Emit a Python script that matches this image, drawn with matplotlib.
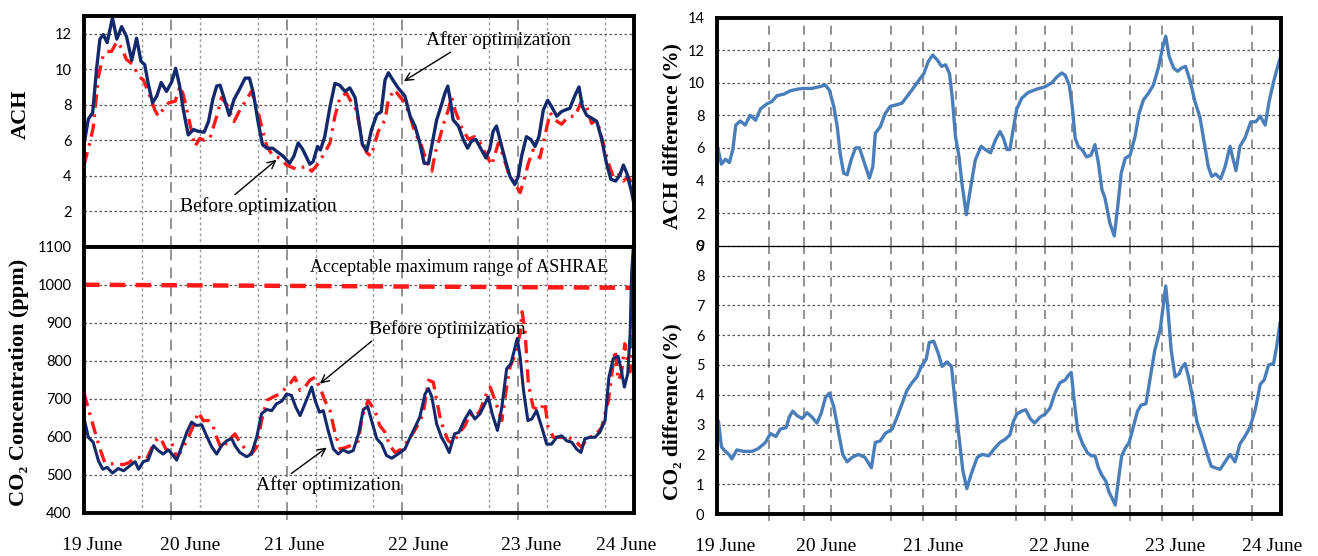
import matplotlib
matplotlib.use("Agg")
import matplotlib.pyplot as plt

SERIF = ['Liberation Serif', 'DejaVu Serif']
SANS = ['Lato', 'DejaVu Sans']

# time axis: hours since 19 June 00:00
day_labels = ['19 June', '20 June', '21 June', '22 June', '23 June', '24 June']
day_label_pos = [7.7, 28.0, 49.6, 75.2, 98.6, 118.3]

# ACH, after optimization (hour, value)
ach_after = [
    (5.9, 5.6), (6.9, 7.2), (7.8, 7.55), (8.6, 10.0), (9.3, 11.7), (10.0, 11.95), (10.8, 11.5),
    (11.9, 12.9), (12.8, 11.7), (13.8, 12.4), (14.8, 11.85), (15.9, 10.5), (16.9, 11.75),
    (17.8, 10.45), (18.6, 10.25), (19.3, 9.2), (20.2, 8.1), (21.1, 8.5), (22.0, 9.25), (23.1, 8.75),
    (24.2, 9.3), (25.0, 10.05), (25.8, 9.1), (26.6, 7.7), (27.6, 6.3), (28.7, 6.6), (29.7, 6.5),
    (30.9, 6.45), (31.8, 7.05), (32.7, 8.3), (33.5, 9.05), (34.2, 9.1), (34.9, 8.5), (36.1, 7.4),
    (37.1, 8.3), (38.2, 8.85), (39.4, 9.5), (40.3, 9.5), (41.1, 8.65), (42.1, 7.0), (43.0, 5.75),
    (43.9, 5.55), (45.1, 5.55), (46.3, 5.3), (47.3, 5.1), (48.6, 4.7), (49.5, 5.1), (50.4, 5.85),
    (51.3, 5.5), (52.8, 4.65), (53.5, 4.8), (54.4, 5.65), (55.0, 5.45), (55.9, 6.2), (57.0, 7.9),
    (58.0, 9.2), (59.0, 9.1), (60.1, 8.75), (61.1, 8.95), (62.2, 8.4), (62.9, 7.15), (63.7, 5.75),
    (64.6, 5.4), (65.6, 6.6), (66.7, 7.45), (67.6, 7.6), (68.4, 9.4), (69.1, 9.8), (70.0, 9.4),
    (71.1, 8.95), (72.5, 8.5), (73.6, 7.35), (74.6, 6.8), (75.6, 5.85), (76.5, 4.7), (77.4, 4.7),
    (78.2, 5.85), (79.1, 7.15), (80.1, 8.0), (80.8, 8.65), (81.4, 9.05), (81.9, 8.3), (82.5, 7.15),
    (83.6, 6.8), (84.6, 6.05), (85.5, 5.55), (86.3, 5.95), (87.2, 6.05), (88.3, 5.5), (89.3, 5.0),
    (90.1, 5.5), (90.8, 6.5), (91.5, 6.8), (92.2, 6.05), (93.3, 4.9), (94.3, 3.95), (95.3, 3.5),
    (96.0, 3.95), (96.7, 5.1), (97.7, 6.2), (98.6, 6.05), (99.5, 5.65), (100.3, 6.2), (101.2, 7.7),
    (102.1, 8.25), (102.9, 7.9), (104.0, 7.35), (104.9, 7.6), (105.7, 7.7), (106.7, 7.8),
    (107.8, 8.55), (108.6, 9.0), (109.3, 7.9), (110.2, 7.4), (111.2, 7.25), (112.3, 7.05),
    (113.3, 6.05), (114.3, 4.7), (115.2, 3.8), (116.2, 3.7), (117.1, 4.05), (117.8, 4.6),
    (118.5, 4.15), (119.4, 3.2), (120.0, 2.4),
]

# ACH, before optimization
ach_before = [
    (6.0, 4.6), (7.2, 5.85), (7.9, 6.7), (9.0, 9.6), (10.0, 10.8), (10.8, 11.0), (11.7, 11.0),
    (12.8, 11.55), (13.8, 11.2), (14.8, 10.55), (16.2, 10.25), (17.3, 9.6), (18.3, 9.4),
    (19.7, 8.45), (20.7, 7.7), (21.4, 7.35), (22.3, 7.7), (23.5, 8.1), (24.9, 8.2), (25.9, 9.05),
    (26.6, 8.55), (27.6, 7.35), (29.0, 5.65), (30.0, 6.1), (30.9, 6.0), (32.1, 6.1), (33.5, 7.35),
    (34.5, 8.4), (35.6, 8.0), (37.1, 7.05), (38.3, 7.7), (39.7, 8.3), (40.7, 8.75), (41.8, 7.9),
    (42.8, 6.8), (43.9, 5.65), (45.2, 5.1), (46.6, 5.0), (48.0, 4.6), (50.1, 4.35), (52.1, 4.55),
    (53.2, 4.25), (54.6, 4.7), (55.9, 5.3), (57.0, 5.85), (58.0, 7.35), (59.1, 8.45), (60.4, 8.65),
    (61.5, 8.1), (62.5, 7.7), (63.5, 6.2), (64.6, 5.3), (65.5, 5.1), (66.3, 5.85), (67.0, 6.5),
    (68.4, 7.15), (69.1, 8.3), (70.3, 8.85), (71.2, 8.55), (72.5, 8.1), (73.6, 7.35), (74.5, 6.5),
    (76.0, 5.65), (77.0, 4.8), (78.1, 4.25), (78.8, 5.3), (79.8, 6.2), (80.5, 6.9), (81.5, 7.7),
    (82.2, 8.45), (82.9, 7.7), (84.3, 6.7), (85.7, 6.05), (86.9, 6.2), (88.1, 5.85), (89.5, 5.1),
    (90.5, 4.6), (91.9, 5.85), (92.9, 5.1), (94.0, 4.15), (95.0, 3.7), (96.4, 3.05), (97.4, 3.95),
    (98.1, 4.7), (99.1, 5.45), (100.5, 5.0), (101.5, 6.2), (102.6, 7.55), (103.6, 7.15),
    (105.0, 6.9), (106.4, 7.35), (107.8, 7.35), (109.1, 8.2), (110.2, 7.9), (111.2, 6.95),
    (112.3, 7.15), (113.6, 5.85), (114.7, 4.7), (115.7, 3.95), (116.7, 4.15), (117.8, 3.7),
    (118.8, 3.95), (119.9, 3.4),
]

# CO2 concentration (ppm), after optimization
co2_after = [
    (6.0, 650), (6.9, 599), (7.9, 586), (9.0, 537), (9.9, 515), (10.8, 520), (11.9, 505),
    (13.1, 517), (14.2, 511), (15.5, 524), (16.6, 535), (17.3, 515), (18.3, 535), (19.3, 539),
    (20.4, 577), (21.4, 564), (22.4, 555), (23.5, 566), (24.5, 551), (25.2, 539), (26.2, 573),
    (27.3, 612), (28.3, 639), (29.3, 630), (30.4, 632), (31.4, 603), (32.5, 573), (33.5, 555),
    (34.5, 577), (35.6, 590), (36.6, 596), (37.3, 577), (38.3, 559), (39.7, 548), (40.7, 555),
    (41.8, 599), (42.8, 661), (43.9, 672), (44.9, 669), (45.9, 687), (47.0, 694), (48.0, 713),
    (49.0, 709), (49.9, 678), (50.8, 656), (51.8, 687), (52.5, 709), (53.2, 731), (53.9, 696),
    (54.8, 665), (55.6, 669), (56.6, 617), (57.7, 568), (58.7, 555), (59.7, 566), (60.8, 559),
    (61.8, 564), (62.9, 608), (63.9, 672), (64.8, 680), (65.6, 643), (66.7, 595), (67.7, 581),
    (68.7, 551), (69.8, 544), (71.1, 555), (72.5, 568), (73.6, 599), (74.6, 625), (75.6, 652),
    (76.7, 713), (77.4, 727), (78.1, 705), (79.1, 634), (80.1, 599), (80.9, 581), (81.7, 559),
    (82.8, 608), (83.7, 612), (84.8, 643), (86.0, 669), (87.0, 647), (88.1, 661), (89.1, 687),
    (89.8, 705), (90.6, 661), (91.7, 617), (92.6, 678), (93.6, 779), (94.5, 793), (95.2, 828),
    (95.8, 859), (96.4, 810), (97.1, 722), (98.0, 643), (98.8, 647), (99.8, 669), (100.9, 625),
    (101.9, 581), (102.9, 581), (104.0, 599), (105.0, 603), (106.0, 590), (107.1, 586),
    (108.1, 568), (109.0, 559), (109.8, 595), (110.9, 599), (111.9, 599), (112.9, 612),
    (114.0, 643), (114.8, 757), (115.7, 806), (116.7, 812), (117.3, 779), (118.0, 731),
    (118.7, 766), (119.2, 872), (119.5, 1030), (119.9, 1110),
]

# CO2 concentration (ppm), before optimization
co2_before = [
    (6.0, 715), (7.2, 661), (8.1, 621), (9.2, 573), (10.3, 533), (11.4, 529), (12.8, 530),
    (14.2, 527), (15.4, 533), (16.6, 546), (17.6, 546), (19.0, 542), (20.4, 581), (21.4, 599),
    (22.3, 586), (23.1, 564), (24.2, 583), (25.2, 546), (26.2, 564), (27.3, 590), (28.7, 630),
    (29.7, 665), (30.7, 643), (31.8, 643), (32.7, 630), (33.5, 599), (34.5, 568), (35.9, 590),
    (37.3, 608), (38.3, 586), (39.7, 564), (40.7, 555), (41.8, 573), (42.8, 643), (43.9, 696),
    (45.2, 705), (46.6, 713), (47.7, 727), (48.7, 740), (49.7, 757), (50.8, 722), (51.8, 731),
    (52.8, 749), (53.9, 757), (54.9, 731), (55.9, 696), (57.0, 669), (58.0, 612), (59.1, 568),
    (60.4, 573), (61.8, 580), (62.9, 590), (63.6, 652), (64.9, 696), (66.3, 669), (67.3, 630),
    (68.4, 612), (69.4, 577), (70.5, 559), (71.8, 568), (72.9, 586), (74.3, 612), (75.3, 634),
    (76.3, 661), (77.4, 749), (78.4, 744), (79.1, 696), (79.8, 652), (80.5, 621), (81.5, 590),
    (82.5, 581), (83.6, 608), (85.0, 630), (86.0, 661), (87.0, 652), (88.1, 669), (89.1, 705),
    (90.2, 731), (91.2, 696), (92.6, 643), (93.6, 731), (94.3, 784), (95.3, 815), (96.4, 872),
    (96.8, 929), (97.4, 881), (98.1, 740), (99.1, 678), (100.5, 669), (101.5, 691), (102.2, 625),
    (103.3, 599), (105.0, 599), (106.4, 599), (107.8, 590), (109.1, 573), (110.5, 599),
    (111.9, 603), (113.3, 625), (114.7, 696), (115.4, 766), (116.1, 828), (116.7, 749),
    (117.4, 766), (118.1, 845), (118.7, 793), (119.2, 771), (119.9, 942),
]

# ASHRAE acceptable maximum (ppm) at start and end of the period
ashrae_limit = [(6.0, 1000), (120.0, 992)]

# ACH difference (%)
ach_diff = [
    (6.0, 6.2), (6.9, 5.0), (7.7, 5.3), (8.5, 5.1), (9.2, 5.9), (9.8, 7.4), (10.7, 7.65),
    (11.7, 7.4), (12.7, 8.0), (13.8, 7.7), (14.8, 8.4), (16.1, 8.7), (17.1, 8.85), (18.1, 9.2),
    (19.5, 9.3), (20.8, 9.5), (22.2, 9.6), (23.5, 9.65), (25.2, 9.65), (26.6, 9.75), (27.9, 9.85),
    (28.7, 9.55), (29.6, 8.55), (30.3, 7.3), (30.9, 5.65), (31.6, 4.45), (32.3, 4.35), (33.2, 5.35),
    (34.0, 6.0), (34.8, 6.0), (35.6, 5.25), (36.8, 4.15), (37.5, 4.85), (38.0, 6.9), (39.0, 7.3),
    (40.0, 8.1), (41.0, 8.55), (42.4, 8.65), (43.4, 8.75), (44.4, 9.15), (45.4, 9.55),
    (46.8, 10.15), (47.8, 10.55), (48.7, 11.3), (49.6, 11.7), (50.5, 11.4), (51.4, 11.0),
    (52.2, 11.1), (53.0, 10.55), (53.6, 8.95), (54.2, 6.7), (54.9, 5.5), (55.5, 3.85), (56.4, 1.9),
    (57.2, 3.45), (58.2, 5.25), (59.4, 6.1), (60.2, 5.9), (61.3, 5.7), (62.3, 6.5), (63.2, 7.0),
    (63.9, 6.6), (64.6, 5.9), (65.2, 5.9), (65.9, 7.2), (66.6, 8.4), (67.6, 9.05), (68.9, 9.4),
    (70.6, 9.6), (72.3, 9.75), (73.7, 10.0), (74.7, 10.35), (75.7, 10.6), (76.4, 10.45),
    (77.2, 9.85), (77.8, 8.55), (78.4, 6.6), (79.0, 6.1), (79.9, 5.85), (80.7, 5.45), (81.6, 5.55),
    (82.4, 6.2), (83.1, 5.05), (83.8, 3.45), (84.4, 2.95), (85.4, 1.4), (86.3, 0.6), (87.0, 2.4),
    (87.7, 4.45), (88.5, 5.35), (89.5, 5.55), (90.5, 6.7), (91.3, 8.1), (92.2, 8.95), (93.2, 9.35),
    (94.2, 9.85), (95.2, 10.9), (96.1, 12.2), (96.7, 12.85), (97.4, 11.6), (98.3, 10.9),
    (99.1, 10.7), (99.9, 10.9), (100.7, 11.0), (101.6, 10.15), (102.6, 8.85), (103.6, 7.9),
    (104.5, 6.3), (105.3, 4.85), (106.0, 4.25), (106.8, 4.4), (107.8, 4.1), (108.7, 4.85),
    (109.7, 6.1), (110.2, 5.45), (110.9, 4.6), (111.7, 6.1), (112.7, 6.6), (113.9, 7.6),
    (114.9, 7.6), (115.8, 7.95), (116.8, 7.4), (117.6, 8.85), (118.5, 10.05), (119.6, 11.3),
    (120.0, 11.6),
]

# CO2 difference (%)
co2_diff = [
    (6.0, 3.2), (6.3, 3.1), (6.9, 2.25), (7.7, 2.1), (8.4, 2.0), (9.0, 1.85), (10.0, 2.15),
    (11.4, 2.1), (13.1, 2.1), (14.4, 2.2), (15.8, 2.4), (16.8, 2.7), (17.9, 2.6), (18.8, 2.85),
    (20.0, 2.9), (20.6, 3.25), (21.3, 3.45), (22.2, 3.3), (23.2, 3.2), (24.2, 3.4), (25.2, 3.25),
    (26.2, 3.05), (27.1, 3.4), (27.9, 3.9), (28.7, 4.05), (29.6, 3.6), (30.5, 2.8), (31.4, 2.0),
    (32.3, 1.75), (33.3, 1.9), (34.6, 2.0), (35.9, 1.9), (37.2, 1.55), (38.0, 2.4), (39.0, 2.45),
    (40.0, 2.7), (41.4, 2.85), (42.4, 3.25), (43.4, 3.7), (44.4, 4.15), (45.4, 4.4), (46.4, 4.6),
    (47.3, 4.95), (48.3, 5.2), (48.9, 5.75), (49.8, 5.8), (50.7, 5.4), (51.5, 4.95), (52.5, 5.1),
    (53.4, 4.95), (54.0, 3.95), (54.7, 2.9), (55.7, 1.45), (56.5, 0.85), (57.4, 1.35), (58.6, 1.9),
    (59.6, 2.0), (60.9, 1.95), (62.1, 2.2), (63.2, 2.4), (64.2, 2.5), (65.2, 2.65), (65.9, 3.1),
    (66.6, 3.35), (67.6, 3.45), (68.4, 3.5), (69.3, 3.2), (70.2, 3.05), (71.3, 3.25), (72.3, 3.35),
    (73.3, 3.55), (74.3, 4.05), (75.3, 4.4), (76.4, 4.5), (77.0, 4.65), (77.6, 4.75), (78.2, 3.8),
    (78.9, 2.8), (79.9, 2.35), (80.9, 2.05), (81.7, 1.95), (82.4, 1.95), (83.1, 1.55), (83.8, 1.3),
    (84.6, 1.1), (85.2, 0.75), (86.5, 0.3), (87.1, 1.1), (87.8, 1.95), (88.5, 2.2), (89.3, 2.4),
    (90.2, 2.95), (91.0, 3.45), (91.7, 3.65), (92.7, 3.7), (93.5, 4.5), (94.5, 5.5), (95.6, 6.2),
    (96.2, 7.0), (96.7, 7.65), (97.1, 6.95), (97.8, 5.5), (98.6, 4.6), (99.4, 4.7), (99.9, 4.9),
    (100.6, 5.05), (101.3, 4.6), (102.1, 3.95), (103.0, 3.1), (104.0, 2.6), (105.0, 2.05),
    (105.9, 1.6), (106.7, 1.55), (107.7, 1.5), (108.7, 1.75), (109.7, 2.0), (110.7, 1.75),
    (111.7, 2.35), (112.7, 2.6), (113.7, 2.9), (114.8, 3.5), (115.8, 4.35), (116.6, 4.5),
    (117.5, 5.0), (118.5, 5.05), (119.1, 5.6), (119.8, 6.4),
]

# gridline positions (hours)
left_day_lines = [24, 48, 72, 96]
left_half_lines = [18, 30, 42, 54, 66, 90, 102, 114]
right_lines = [16.6, 23.5, 29.1, 41.1, 47.6, 54.3, 66.4, 72.2, 77.8, 89.5, 95.9, 102.3, 114.1]

NAVY = '#13296b'
RED = '#ff1a1a'
BLUE = '#4a7ebb'
GRID = '#8a8a8a'


def xy(points):
    xs, ys = zip(*points)
    return list(xs), list(ys)


def style_axes(ax, yticks, ylim, thick_sides, vlines_dash, vlines_dot, bottom_labels, dash_style):
    ax.set_xlim(6, 120)
    ax.set_ylim(*ylim)
    ax.set_yticks(yticks)
    ax.tick_params(axis='y', length=0, pad=9, labelsize=10.5)
    for lab in ax.get_yticklabels():
        lab.set_family(SANS)
    ax.set_xticks(day_label_pos)
    if bottom_labels:
        ax.set_xticklabels(day_labels, family=SERIF, fontsize=14)
        ax.set_xticks(vlines_dash, minor=True)
        ax.tick_params(axis='x', which='major', length=0, pad=17)
        ax.tick_params(axis='x', which='minor', length=5, width=1.2, color=GRID, direction='out')
    else:
        ax.set_xticklabels([])
        ax.tick_params(axis='x', length=0)
    ax.grid(axis='y', linestyle=(0, (2, 2)), color='#555555', linewidth=0.9)
    ax.grid(axis='x', visible=False)
    for h in vlines_dash:
        ax.axvline(h, color=GRID, linewidth=1.3, linestyle=dash_style, zorder=1)
    for h in vlines_dot:
        ax.axvline(h, color='#9a9a9a', linewidth=1.0, linestyle=(0, (2, 2)), zorder=1)
    for side, sp in ax.spines.items():
        sp.set_color('black')
        sp.set_linewidth(2.8 if side in thick_sides else 0.9)
        sp.set_zorder(5)


def arrow(relpos):
    return dict(arrowstyle='->', color='black', lw=1.0, shrinkA=0, shrinkB=0, relpos=relpos)


fig = plt.figure(figsize=(13.18, 5.56), dpi=100)
W, H = 1318.0, 556.0
ax_ach = fig.add_axes([84 / W, 1 - 246.7 / H, 550 / W, 230.7 / H])
ax_co2 = fig.add_axes([84 / W, 1 - 513 / H, 550 / W, 266.3 / H])
ax_dach = fig.add_axes([717 / W, 1 - 245.7 / H, 564 / W, 228.2 / H])
ax_dco2 = fig.add_axes([717 / W, 1 - 514 / H, 564 / W, 268.3 / H])

dashdot = (0, (4, 2, 0.8, 2))

# ---- left top: ACH
x, y = xy(ach_before)
ax_ach.plot(x, y, color=RED, linewidth=2.4, linestyle=dashdot, zorder=3)
x, y = xy(ach_after)
ax_ach.plot(x, y, color=NAVY, linewidth=2.4, zorder=4, solid_joinstyle='round')
style_axes(ax_ach, [2, 4, 6, 8, 10, 12], (0, 13), ('top', 'bottom', 'left', 'right'),
           left_day_lines, left_half_lines, False, (0, (6, 4)))
ax_ach.set_ylabel('ACH', family=SERIF, fontsize=16, fontweight='bold')
ax_ach.yaxis.set_label_coords(-0.097, 0.572)
ax_ach.annotate('After optimization', xy=(72.3, 9.33), xytext=(91.9, 11.62),
                family=SERIF, fontsize=14, ha='center', va='center',
                arrowprops=arrow((0.2, 0.0)))
ax_ach.annotate('Before optimization', xy=(45.9, 4.9), xytext=(42.1, 2.27),
                family=SERIF, fontsize=14, ha='center', va='center',
                arrowprops=arrow((0.33, 1.0)))

# ---- left bottom: CO2 concentration
x, y = xy(ashrae_limit)
ax_co2.plot(x, y, color=RED, linewidth=3.2, linestyle=(0, (3.5, 2.3)), zorder=3)
x, y = xy(co2_before)
ax_co2.plot(x, y, color=RED, linewidth=2.4, linestyle=dashdot, zorder=3)
x, y = xy(co2_after)
ax_co2.plot(x, y, color=NAVY, linewidth=2.2, zorder=4, solid_joinstyle='round')
style_axes(ax_co2, list(range(400, 1101, 100)), (400, 1100), ('top', 'bottom', 'left', 'right'),
           left_day_lines, left_half_lines, True, (0, (6, 4)))
ax_co2.set_ylabel('CO\u2082 Concentration (ppm)', family=SERIF, fontsize=16, fontweight='bold')
ax_co2.yaxis.set_label_coords(-0.1, 0.49)
ax_co2.text(83.7, 1047, 'Acceptable maximum range of ASHRAE', family=SERIF, fontsize=13,
            ha='center', va='center')
ax_co2.annotate('Before optimization', xy=(54.9, 740), xytext=(81.3, 883),
                family=SERIF, fontsize=14, ha='center', va='center',
                arrowprops=arrow((0.04, 0.0)))
ax_co2.annotate('After optimization', xy=(56.3, 572), xytext=(56.6, 473),
                family=SERIF, fontsize=14, ha='center', va='center',
                arrowprops=arrow((0.22, 1.0)))

# ---- right top: ACH difference
x, y = xy(ach_diff)
ax_dach.plot(x, y, color=BLUE, linewidth=2.4, zorder=4, solid_joinstyle='round')
style_axes(ax_dach, list(range(0, 15, 2)), (0, 14), ('top', 'left', 'right'),
           right_lines, [], False, (0, (5, 4)))
ax_dach.spines['bottom'].set_visible(False)
ax_dach.set_ylabel('ACH difference (%)', family=SERIF, fontsize=15.5, fontweight='bold')
ax_dach.yaxis.set_label_coords(-0.062, 0.48)

# ---- right bottom: CO2 difference
x, y = xy(co2_diff)
ax_dco2.plot(x, y, color=BLUE, linewidth=2.4, zorder=4, solid_joinstyle='round')
style_axes(ax_dco2, list(range(0, 10)), (0, 9), ('bottom', 'left', 'right'),
           right_lines, [], True, (0, (5, 4)))
ax_dco2.set_ylabel('CO\u2082 difference (%)', family=SERIF, fontsize=15.5, fontweight='bold')
ax_dco2.yaxis.set_label_coords(-0.062, 0.38)

fig.savefig('out.png', dpi=100)
